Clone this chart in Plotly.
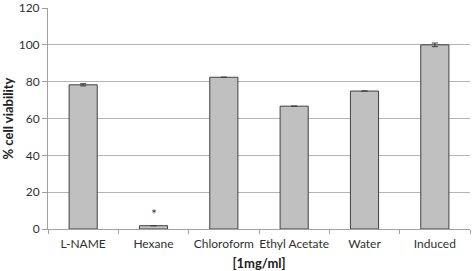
import plotly.graph_objects as go

categories = ["L-NAME", "Hexane", "Chloroform", "Ethyl Acetate", "Water", "Induced"]
values = [78.3, 1.8, 82.4, 66.7, 74.9, 100.0]
errors = [0.6, None, None, None, None, 1.0]
annotations_text = ["", "*", "", "", "", ""]
y_ticks = [0, 20, 40, 60, 80, 100, 120]

font_family = "Lato, Open Sans, Liberation Sans, sans-serif"

fig = go.Figure()
fig.add_trace(go.Bar(
    x=categories,
    y=values,
    width=0.4,
    marker=dict(color="#c0c0c0", line=dict(color="#404040", width=1)),
    error_y=dict(type="data", array=errors, visible=True, color="#404040",
                 thickness=1, width=3),
))

for c, v, t in zip(categories, values, annotations_text):
    if t:
        fig.add_annotation(x=c, y=v, text=t, showarrow=False, yshift=12,
                           font=dict(size=14, color="#404040", family=font_family))

fig.update_layout(
    width=472, height=271,
    margin=dict(l=48, r=2, t=8, b=42, autoexpand=False),
    plot_bgcolor="white", paper_bgcolor="white",
    showlegend=False,
    font=dict(family=font_family, size=12, color="#303030"),
)
fig.update_xaxes(
    showline=True, linecolor="#a0a0a0", linewidth=1,
    ticks="outside", ticklen=4, tickcolor="#a0a0a0",
    tickson="boundaries", tickangle=0, ticklabelstandoff=4,
    title=dict(text="<b>[1mg/ml]</b>", font=dict(size=13, color="#202020"), standoff=8),
    tickfont=dict(size=12),
)
fig.update_yaxes(
    range=[0, 120], tickvals=y_ticks,
    showgrid=True, gridcolor="#b4b4b4", gridwidth=1,
    showline=True, linecolor="#a0a0a0", linewidth=1,
    ticks="outside", ticklen=5, tickcolor="#a0a0a0",
    zeroline=False, ticklabeloverflow="allow",
    title=dict(text="<b>% cell viability</b>", font=dict(size=13, color="#202020"), standoff=6),
    tickfont=dict(size=12),
)

fig.write_html("out.html", config={"displayModeBar": False},
               post_script="document.body.style.margin='0';")
